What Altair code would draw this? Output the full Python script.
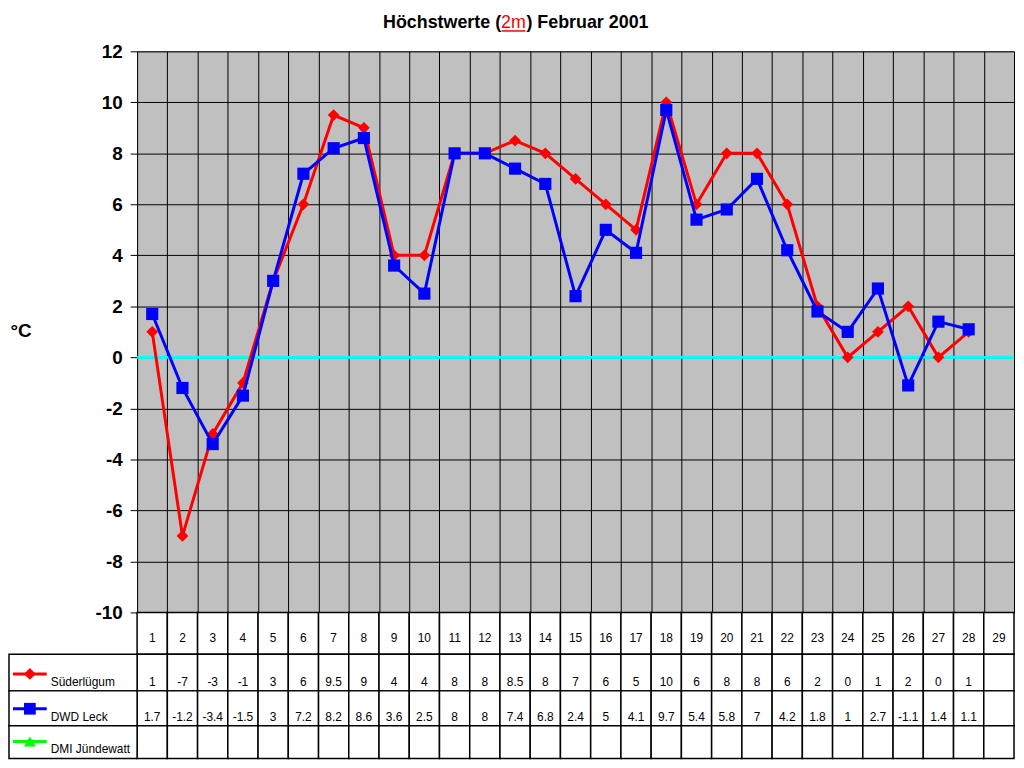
import altair as alt
import pandas as pd

days = list(range(1, 30))
stations = ["Süderlügum", "DWD Leck", "DMI Jündewatt"]
suederluegum = [1, -7, -3, -1, 3, 6, 9.5, 9, 4, 4, 8, 8, 8.5, 8, 7, 6, 5, 10, 6, 8, 8, 6, 2, 0, 1, 2, 0, 1]
dwd_leck = [1.7, -1.2, -3.4, -1.5, 3, 7.2, 8.2, 8.6, 3.6, 2.5, 8, 8, 7.4, 6.8, 2.4, 5, 4.1, 9.7, 5.4, 5.8, 7, 4.2, 1.8, 1, 2.7, -1.1, 1.4, 1.1]
dmi_juendewatt = []
series = [suederluegum, dwd_leck, dmi_juendewatt]

FONT = "Liberation Sans"
W, H = 883, 565

color_scale = alt.Scale(domain=stations, range=["#FF0000", "#0000FF", "#00FF00"])
shape_scale = alt.Scale(domain=stations, range=["diamond", "square", "triangle-up"])
x_scale = alt.Scale(domain=[0.5, 29.5], nice=False, zero=False)

rows = []
for name, vals in zip(stations, series):
    for d, v in zip(days, vals):
        rows.append({"day": d, "station": name, "value": v})
lines_df = pd.DataFrame(rows)

x_enc = alt.X("day:Q", scale=x_scale, title=None,
              axis=alt.Axis(values=[d - 0.5 for d in range(1, 31)], labels=False, ticks=False,
                            domain=False, grid=True, gridColor="black", gridWidth=1))
y_enc = alt.Y("value:Q", scale=alt.Scale(domain=[-10, 12], nice=False),
              axis=alt.Axis(values=list(range(-10, 13, 2)), title="°C", titleAngle=0,
                            titleAlign="left", titleBaseline="middle", titleX=-128, titleY=281,
                            titleFont=FONT, titleFontSize=19, titleFontWeight="bold", titleColor="black",
                            labelFont=FONT, labelFontSize=19, labelFontWeight="bold", labelColor="black",
                            labelExpr="'' + datum.value",
                            labelPadding=8, tickSize=7, tickColor="black", domain=False,
                            grid=True, gridColor="black", gridWidth=1))

zero = alt.Chart(pd.DataFrame({"value": [0]})).mark_rule(color="#00FFFF", strokeWidth=3).encode(y="value:Q")

layers = [zero]
for name, shp in zip(stations[:2], [140, 150]):
    s = alt.Chart(lines_df).transform_filter(alt.datum.station == name).encode(
        x=x_enc, y=y_enc,
        color=alt.Color("station:N", scale=color_scale, legend=None),
    )
    layers.append(s.mark_line(strokeWidth=3))
    layers.append(s.mark_point(filled=True, opacity=1, size=shp).encode(
        shape=alt.Shape("station:N", scale=shape_scale, legend=None)))

one = pd.DataFrame({"k": [0]})
title_y = -23
title_parts = [
    alt.Chart(one).mark_text(text="Höchstwerte (", font=FONT, fontSize=18, fontWeight="bold",
                             align="right", baseline="alphabetic", color="black")
    .encode(x=alt.value(366.5), y=alt.value(title_y)),
    alt.Chart(one).mark_text(text="2m", font=FONT, fontSize=18, align="center",
                             baseline="alphabetic", color="#FF0000")
    .encode(x=alt.value(379), y=alt.value(title_y)),
    alt.Chart(one).mark_text(text=") Februar 2001", font=FONT, fontSize=18, fontWeight="bold",
                             align="left", baseline="alphabetic", color="black")
    .encode(x=alt.value(392), y=alt.value(title_y)),
    alt.Chart(one).mark_rule(color="#FF0000", strokeWidth=1.5)
    .encode(x=alt.value(367), x2=alt.value(391), y=alt.value(title_y + 2.5)),
]

top = alt.layer(*layers, *title_parts).properties(
    width=W, height=H, view=alt.ViewBackground(fill="#C0C0C0", stroke="#808080"))

# data table below the plot
row_names = ["header"] + stations
row_top = [0, 42, 79, 114]
row_bottom = [42, 79, 114, 147]
cells = []
for i, rname in enumerate(row_names):
    vals = days if i == 0 else series[i - 1]
    for d in days:
        lab = ""
        if i == 0:
            lab = str(d)
        elif d <= len(vals):
            lab = f"{vals[d - 1]:g}"
        cells.append({"day": d, "x0": d - 0.5, "x1": d + 0.5, "top": row_top[i], "bottom": row_bottom[i],
                      "ty": row_bottom[i] - (16 if i == 0 else 9), "label": lab})
cells_df = pd.DataFrame(cells)

leg_df = pd.DataFrame({
    "station": stations,
    "top": row_top[1:],
    "bottom": row_bottom[1:],
    "ly": [b - 17 for b in row_bottom[1:]],
    "ty": [b - 9 for b in row_bottom[1:]],
})

tx = alt.Scale(domain=[0.5, 29.5], nice=False, zero=False)
ty = alt.Scale(domain=[0, 147], nice=False, zero=False, reverse=True)

cell_rects = alt.Chart(cells_df).mark_rect(fill="white", stroke="black", strokeWidth=1.5).encode(
    x=alt.X("x0:Q", scale=tx, axis=None), x2="x1:Q",
    y=alt.Y("top:Q", scale=ty, axis=None), y2="bottom:Q")
cell_text = alt.Chart(cells_df).mark_text(font=FONT, fontSize=12, color="black", baseline="middle").encode(
    x=alt.X("day:Q", scale=tx, axis=None), y=alt.Y("ty:Q", scale=ty, axis=None), text="label:N")

leg_rects = alt.Chart(leg_df).mark_rect(fill="white", stroke="black", strokeWidth=1.5).encode(
    x=alt.value(-129), x2=alt.value(0),
    y=alt.Y("top:Q", scale=ty, axis=None), y2="bottom:Q")
leg_lines = alt.Chart(leg_df).mark_rule(strokeWidth=3).encode(
    x=alt.value(-125), x2=alt.value(-91), y=alt.Y("ly:Q", scale=ty, axis=None),
    color=alt.Color("station:N", scale=color_scale, legend=None))
leg_pts = alt.Chart(leg_df).mark_point(filled=True, opacity=1, size=140).encode(
    x=alt.value(-108), y=alt.Y("ly:Q", scale=ty, axis=None),
    color=alt.Color("station:N", scale=color_scale, legend=None),
    shape=alt.Shape("station:N", scale=shape_scale, legend=None))
leg_text = alt.Chart(leg_df).mark_text(font=FONT, fontSize=12, color="black", align="left",
                                      baseline="middle").encode(
    x=alt.value(-87), y=alt.Y("ty:Q", scale=ty, axis=None), text="station:N")

table = alt.layer(cell_rects, cell_text, leg_rects, leg_lines, leg_pts, leg_text).properties(
    width=W, height=147)

chart = alt.vconcat(top, table, spacing=0, bounds="flush").properties(
    padding={"top": 3, "left": 0, "right": 0, "bottom": 0}
).configure_view(stroke=None)

chart.save("out.html", embed_options={"renderer": "svg", "actions": False})
